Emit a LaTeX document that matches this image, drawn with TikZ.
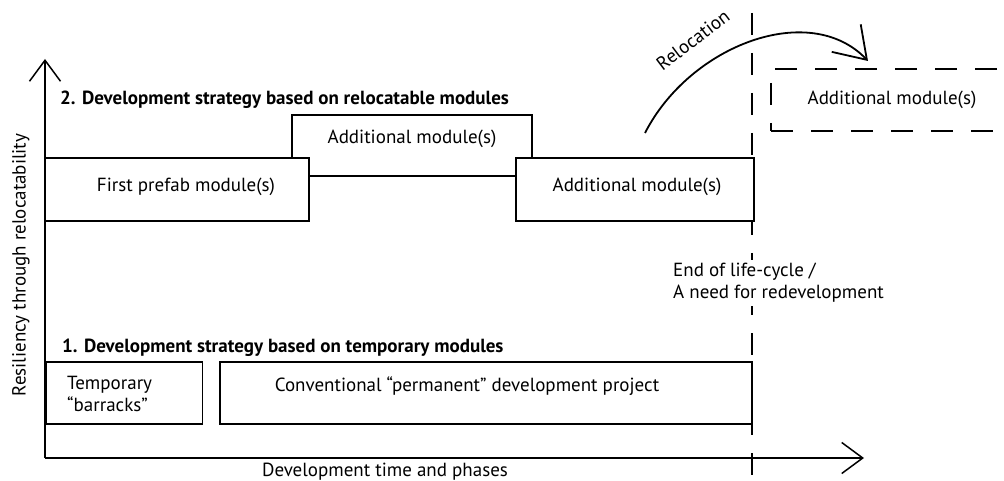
\documentclass[tikz,border=0pt]{standalone}
\usepackage{fontspec}
\setmainfont{PT Sans}
\usetikzlibrary{arrows.meta}
\begin{document}
\begin{tikzpicture}[x=1pt,y=-1pt,
  box/.style={draw=black,line width=1.8pt,fill=white,inner sep=0pt},
  ghostbox/.style={draw=black,line width=1.8pt,dash pattern=on 22pt off 18pt,inner sep=0pt},
  lbl/.style={font=\fontsize{19}{22}\selectfont,inner sep=0pt},
  head/.style={font=\bfseries\fontsize{19}{22}\selectfont,inner sep=0pt,anchor=base west},
  axisline/.style={line width=1.5pt,-{Straight Barb[length=21pt,width=31pt,line width=1.5pt]}},
  moveline/.style={line width=1.8pt,-{Straight Barb[length=30pt,width=40pt,line width=1.8pt]}},
  lifeline/.style={line width=1.8pt,dash pattern=on 22pt off 18pt}]
\useasboundingbox (0,0) rectangle (1004,481);
\clip (0,0) rectangle (1004,481);

% axes
\coordinate (origin) at (45,458);
\coordinate (ytip) at (45,59);
\coordinate (xtip) at (864,458);
\draw[axisline] (origin) -- (ytip);
\draw[axisline] (origin) -- (xtip);
\node[lbl,rotate=90] (ylab) at (21,265) {Resiliency through relocatability};
\node[lbl] (xlab) at (385,472) {Development time and phases};

% end of life-cycle marker
\coordinate (ltop) at (752,13);
\coordinate (lbot) at (752,481);
\draw[lifeline] (ltop) -- (lbot);
\node[lbl,align=left,anchor=west,fill=white,inner sep=3pt] (eol) at (670,283)
  {End of life-cycle /\\A need for redevelopment};

% strategy 2: relocatable modules
\node[head] (h2) at (60,105) {2. Development strategy based on relocatable modules};
\node[box,minimum width=240pt,minimum height=61pt] (m2) at (412,145.5) {};
\node[box,minimum width=264pt,minimum height=63pt] (m1) at (177,189.5) {};
\node[box,minimum width=238pt,minimum height=63pt] (m3) at (635,189.5) {};
\node[lbl] (t2) at (412,139) {Additional module(s)};
\node[lbl] (t1) at (186,187) {First prefab module(s)};
\node[lbl] (t3) at (637,187) {Additional module(s)};

% relocated module
\node[ghostbox,minimum width=242pt,minimum height=62pt] (m4) at (892,100) {};
\node[lbl] (t4) at (892,100) {Additional module(s)};
\coordinate (rfrom) at (645,133);
\coordinate (rto) at (868,61);
\draw[moveline] (rfrom) .. controls (690,45) and (810,0) .. (rto);
\node[lbl,rotate=37] (rl) at (693,40) {Relocation};

% strategy 1: temporary modules
\node[head] (h1) at (62,352) {1. Development strategy based on temporary modules};
\node[box,minimum width=156pt,minimum height=62pt] (b1) at (124.5,393) {};
\node[box,minimum width=532pt,minimum height=62pt] (b2) at (486,393) {};
\node[lbl,align=left,anchor=west] (tb1) at (67,394) {Temporary\\“barracks”};
\node[lbl] (tb2) at (467,386) {Conventional “permanent” development project};
\end{tikzpicture}
\end{document}
